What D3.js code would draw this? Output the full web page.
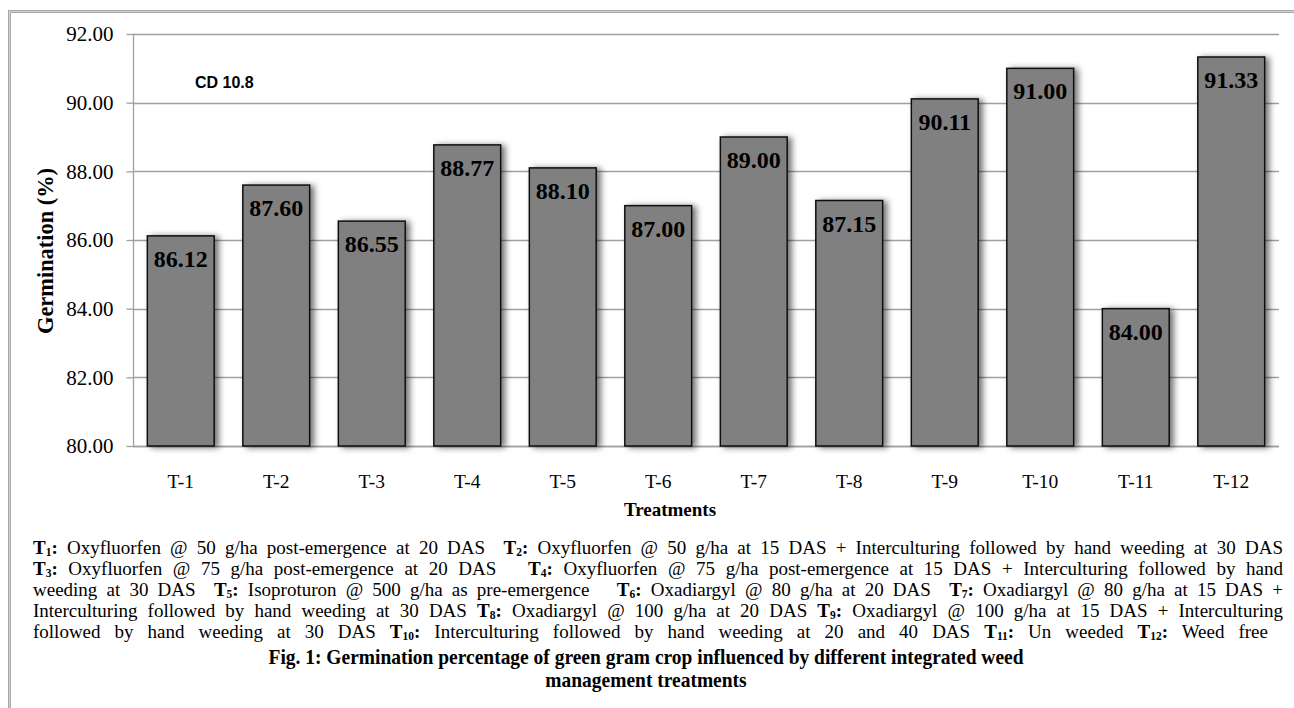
<!DOCTYPE html>
<html><head><meta charset="utf-8">
<script src="https://cdn.jsdelivr.net/npm/d3@7"></script>
<style>
html,body{margin:0;padding:0;background:#fff;}
svg{display:block;}
</style></head>
<body>
<script>
const categories = ["T-1","T-2","T-3","T-4","T-5","T-6","T-7","T-8","T-9","T-10","T-11","T-12"];
const germination = [86.12, 87.60, 86.55, 88.77, 88.10, 87.00, 89.00, 87.15, 90.11, 91.00, 84.00, 91.33];
const yTicks = [80, 82, 84, 86, 88, 90, 92];
const yTitle = "Germination (%)";
const xTitle = "Treatments";
const cdNote = "CD 10.8";
// caption lines: [text, style] ; style: "b" bold, "s" bold subscript, "" normal
const captionLines = [
  [["T","b"],["1","s"],[":","b"],[" Oxyfluorfen @ 50 g/ha post-emergence at 20 DAS  ",""],["T","b"],["2","s"],[":","b"],[" Oxyfluorfen @ 50 g/ha at 15 DAS + Interculturing followed by hand weeding at 30 DAS",""]],
  [["T","b"],["3","s"],[":","b"],[" Oxyfluorfen @ 75 g/ha post-emergence at 20 DAS   ",""],["T","b"],["4","s"],[":","b"],[" Oxyfluorfen @ 75 g/ha post-emergence at 15 DAS + Interculturing followed by hand",""]],
  [["weeding at 30 DAS  ",""],["T","b"],["5","s"],[":","b"],[" Isoproturon @ 500 g/ha as pre-emergence   ",""],["T","b"],["6","s"],[":","b"],[" Oxadiargyl @ 80 g/ha at 20 DAS  ",""],["T","b"],["7","s"],[":","b"],[" Oxadiargyl @ 80 g/ha at 15 DAS +",""]],
  [["Interculturing followed by hand weeding at 30 DAS ",""],["T","b"],["8","s"],[":","b"],[" Oxadiargyl @ 100 g/ha at 20 DAS ",""],["T","b"],["9","s"],[":","b"],[" Oxadiargyl @ 100 g/ha at 15 DAS + Interculturing",""]],
  [["followed by hand weeding at 30 DAS ",""],["T","b"],["10","s"],[":","b"],[" Interculturing followed by hand weeding at 20 and 40 DAS ",""],["T","b"],["11","s"],[":","b"],[" Un weeded ",""],["T","b"],["12","s"],[":","b"],[" Weed free",""]]
];
const figTitle = ["Fig. 1: Germination percentage of green gram crop influenced by different integrated weed", "management treatments"];

const SERIF = '"Liberation Serif","Times New Roman",Times,serif';
const W = 1294, H = 708;
const svg = d3.select("body").append("svg").attr("width", W).attr("height", H);

const defs = svg.append("defs");
const f = defs.append("filter").attr("id","shadow").attr("x","-20%").attr("y","-20%").attr("width","160%").attr("height","140%");
f.append("feDropShadow").attr("dx",4).attr("dy",1).attr("stdDeviation",3).attr("flood-color","#000").attr("flood-opacity",0.55);

// outer frame (top + left double lines)
svg.append("rect").attr("x",8).attr("y",10).attr("width",W-8).attr("height",3).attr("fill","#d0d0d0");
svg.append("rect").attr("x",8).attr("y",10).attr("width",3).attr("height",H-10).attr("fill","#d0d0d0");
svg.append("line").attr("x1",8).attr("x2",W).attr("y1",10.5).attr("y2",10.5).attr("stroke","#a8a8a8");
svg.append("line").attr("x1",10).attr("x2",W).attr("y1",12.5).attr("y2",12.5).attr("stroke","#a8a8a8");
svg.append("line").attr("x1",8.5).attr("x2",8.5).attr("y1",10).attr("y2",H).attr("stroke","#a8a8a8");
svg.append("line").attr("x1",10.5).attr("x2",10.5).attr("y1",12).attr("y2",H).attr("stroke","#a8a8a8");

const plot = {left:133, right:1279, top:34, bottom:446};
const x = d3.scaleBand().domain(categories).range([plot.left, plot.right]).paddingInner(0.3).paddingOuter(0.15);
const y = d3.scaleLinear().domain([80, 92]).range([plot.bottom, plot.top]);

const gridColor = "#a0a0a0";
svg.append("g").selectAll("line").data(yTicks).join("line")
  .attr("x1", plot.left).attr("x2", plot.right)
  .attr("y1", d => Math.round(y(d))+0.5).attr("y2", d => Math.round(y(d))+0.5)
  .attr("stroke", gridColor).attr("stroke-width", 1.3);

// y axis
const yAxis = d3.axisLeft(y).tickValues(yTicks).tickFormat(d3.format(".2f")).tickSize(7).tickPadding(13);
const gy = svg.append("g").attr("transform", `translate(${plot.left+0.5},0)`).call(yAxis);
gy.attr("font-family", null).attr("font-size", null);
gy.select(".domain").attr("stroke", gridColor).attr("stroke-width",1.3).attr("d", `M0,${plot.top}V${plot.bottom}`);
gy.selectAll(".tick line").attr("stroke", gridColor).attr("stroke-width",1.3);
gy.selectAll(".tick text").style("font-family", SERIF).style("font-size","21px").attr("fill","#000");

// x axis
const xAxis = d3.axisBottom(x).tickSize(0).tickPadding(28);
const gx = svg.append("g").attr("transform", `translate(0,${plot.bottom})`).call(xAxis);
gx.attr("font-family", null).attr("font-size", null);
gx.select(".domain").attr("stroke", gridColor).attr("stroke-width",1.3).attr("d", `M${plot.left},0.5H${plot.right}`);
gx.selectAll(".tick text").style("font-family", SERIF).style("font-size","19.5px").attr("fill","#000");

// bars
svg.append("g").selectAll("rect").data(categories).join("rect")
  .attr("x", d => x(d)).attr("width", x.bandwidth())
  .attr("y", (d,i) => y(germination[i])).attr("height", (d,i) => y(80) - y(germination[i]))
  .attr("fill", "#808080").attr("stroke", "#111").attr("stroke-width", 1.5)
  .attr("filter","url(#shadow)");

// value labels
svg.append("g").selectAll("text").data(categories).join("text")
  .attr("x", d => x(d) + x.bandwidth()/2).attr("y", (d,i) => y(germination[i]) + 31)
  .attr("text-anchor","middle")
  .style("font-family", SERIF).style("font-weight","bold").style("font-size","24px")
  .attr("fill","#000")
  .text((d,i) => germination[i].toFixed(2));

// CD note
svg.append("text").attr("x",195).attr("y",88).style("font-family",'"Liberation Sans",Arial,sans-serif')
  .style("font-weight","bold").style("font-size","16px").text(cdNote);

// axis titles
svg.append("text").attr("transform","translate(53,251) rotate(-90)").attr("text-anchor","middle")
  .style("font-family", SERIF).style("font-weight","bold").style("font-size","23px")
  .attr("textLength",166).attr("lengthAdjust","spacingAndGlyphs")
  .text(yTitle);
svg.append("text").attr("x",670).attr("y",516).attr("text-anchor","middle")
  .style("font-family", SERIF).style("font-weight","bold").style("font-size","19px")
  .text(xTitle);

// caption (justified)
const capLeft = 33, capRight = 1283;
const baselines = [554, 575, 596, 617, 638];
captionLines.forEach((segs, li) => {
  const t = svg.append("text").attr("x", capLeft).attr("y", baselines[li])
    .style("font-family", SERIF).style("font-size","19px").attr("fill","#000")
    .style("white-space","pre");
  let prevSub = false;
  segs.forEach(([txt, st]) => {
    const ts = t.append("tspan").style("font-family", SERIF).text(txt);
    if (st === "b") ts.style("font-weight","bold");
    if (st === "s") ts.style("font-weight","bold").style("font-size","11.5px").attr("dy",2);
    else if (prevSub) ts.attr("dy",-2);
    prevSub = (st === "s");
  });
  const target = (li === 4) ? 1268 - capLeft : capRight - capLeft;
  const natural = t.node().getComputedTextLength();
  const full = segs.map(s=>s[0]).join("");
  const nSpaces = (full.match(/ /g) || []).length;
  if (natural <= target) {
    t.style("word-spacing", ((target - natural) / nSpaces) + "px");
  } else {
    t.attr("transform", `translate(${capLeft},0) scale(${target/natural},1) translate(${-capLeft},0)`);
  }
});

// figure title (condensed bold)
const ty = [664, 687];
const titleNodes = figTitle.map((s, i) => svg.append("text").attr("x", 646).attr("y", ty[i]).attr("text-anchor","middle")
    .style("font-family", SERIF).style("font-weight","bold").style("font-size","22px").text(s));
const factor = 755 / titleNodes[0].node().getComputedTextLength();
titleNodes.forEach(n => {
  const w = n.node().getComputedTextLength() * factor;
  n.attr("textLength", w).attr("lengthAdjust","spacingAndGlyphs");
});
</script>
</body></html>
